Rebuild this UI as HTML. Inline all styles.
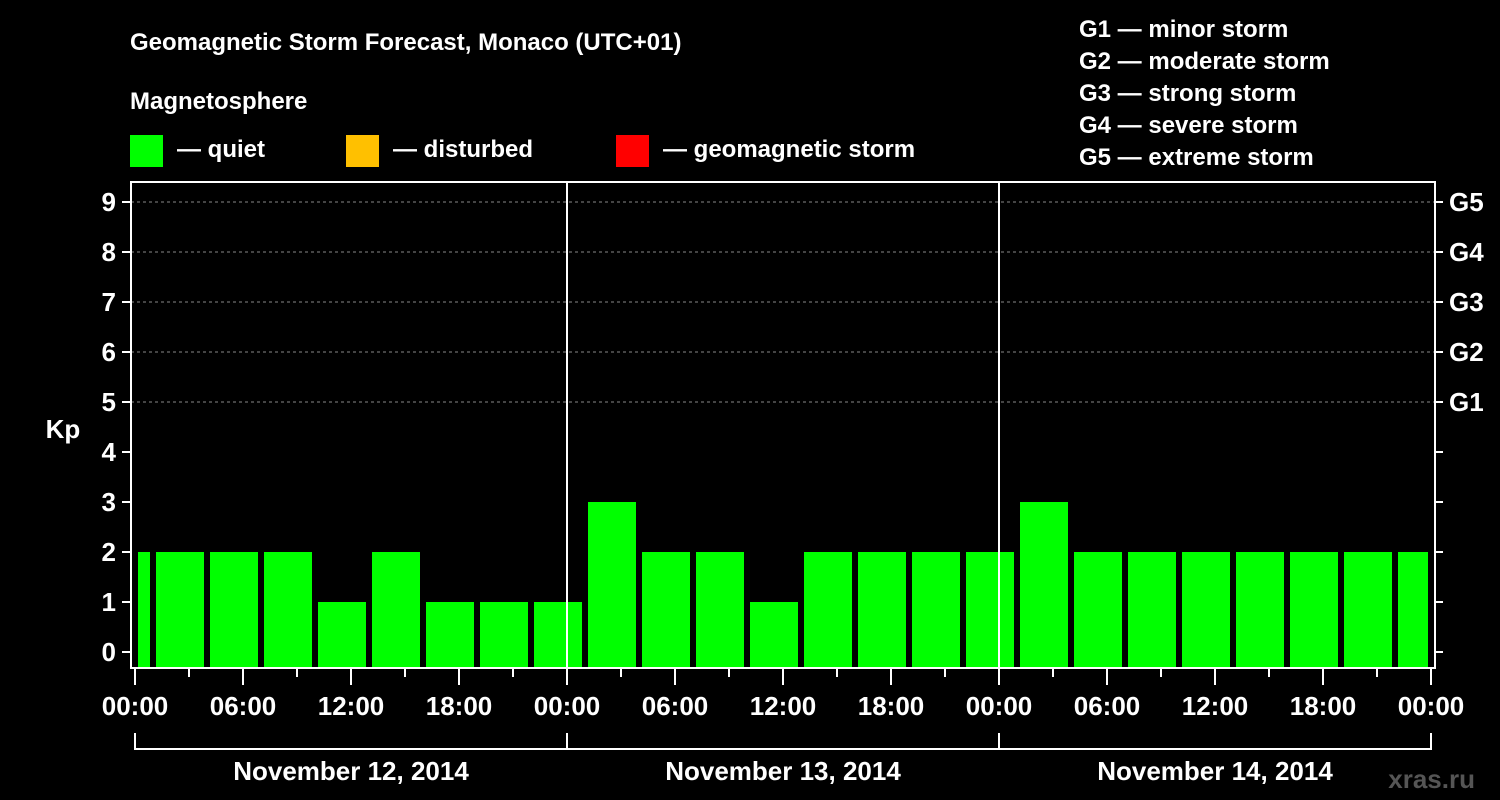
<!DOCTYPE html>
<html><head><meta charset="utf-8"><style>
html,body{margin:0;padding:0;background:#000;}
svg{display:block;font-family:"Liberation Sans",Arial,sans-serif;font-weight:bold;}
</style></head><body>
<svg id="chart" width="1500" height="800" viewBox="0 0 1500 800">
<text x="130" y="50" fill="#fff" font-size="24">Geomagnetic Storm Forecast, Monaco (UTC+01)</text>
<text x="130" y="109" fill="#fff" font-size="24">Magnetosphere</text>
<g><rect x="130" y="135" width="33" height="32" fill="#00ff00"/><text x="177" y="157" fill="#fff" font-size="24">— quiet</text></g>
<g><rect x="346" y="135" width="33" height="32" fill="#ffc000"/><text x="393" y="157" fill="#fff" font-size="24">— disturbed</text></g>
<g><rect x="616" y="135" width="33" height="32" fill="#ff0000"/><text x="663" y="157" fill="#fff" font-size="24">— geomagnetic storm</text></g>
<g fill="#fff" font-size="24">
<text x="1079" y="37">G1 — minor storm</text>
<text x="1079" y="69">G2 — moderate storm</text>
<text x="1079" y="101">G3 — strong storm</text>
<text x="1079" y="133">G4 — severe storm</text>
<text x="1079" y="165">G5 — extreme storm</text>
</g>
<text x="63" y="438" fill="#fff" font-size="26" text-anchor="middle">Kp</text>
<text x="1475" y="788" fill="#555" font-size="26" text-anchor="end">xras.ru</text>
<g id="plot"></g>
</svg>
<script>
const kpValues=[2,2,2,2,1,2,1,1,1,3,2,2,1,2,2,2,2,3,2,2,2,2,2,2,2];
const yTicks=[0,1,2,3,4,5,6,7,8,9];
const gLabels=["G1","G2","G3","G4","G5"];
const dayLabels=["November 12, 2014","November 13, 2014","November 14, 2014"];
const hourLabels=["00:00","06:00","12:00","18:00"];
const NS="http://www.w3.org/2000/svg";
const g=document.getElementById('plot');
const L=131,R=1435,T=182,B=668,X0=135,PXH=18;
const y=v=>652-v*50;
const x=h=>X0+h*PXH;
function mk(tag,at,parent){const e=document.createElementNS(NS,tag);for(const k in at)e.setAttribute(k,at[k]);(parent||g).appendChild(e);return e;}
// grid
for(let v=5;v<=9;v++){const l=mk('line',{x1:L,x2:R,y1:y(v),y2:y(v),stroke:'#888','stroke-dasharray':'3,3','stroke-width':1});

}
// bars: first bar interval starts at -2h (UTC+01 offset)
kpValues.forEach((v,i)=>{let s=x(-2+3*i),e=x(1+3*i);s=Math.max(s,X0);e=Math.min(e,x(72));
const r=mk('rect',{x:s+3,y:y(v),width:Math.max(0,e-s-6),height:B-y(v),fill:v>=5?'#ff0000':(v>=4?'#ffc000':'#00ff00')});

});
// day separators
[1,2].forEach(d=>{const l=mk('line',{x1:x(24*d),x2:x(24*d),y1:T,y2:B,stroke:'#fff','stroke-width':2});

});
// frame
const f=mk('rect',{x:L,y:T,width:R-L,height:B-T,fill:'none',stroke:'#fff','stroke-width':2});


// y ticks
yTicks.forEach(v=>{mk('line',{x1:122,x2:L,y1:y(v),y2:y(v),stroke:'#fff','stroke-width':2});
mk('line',{x1:R,x2:1443,y1:y(v),y2:y(v),stroke:'#fff','stroke-width':2});
const t=mk('text',{x:116,y:y(v)+9,fill:'#fff','font-size':26,'text-anchor':'end'});t.textContent=v;

});
gLabels.forEach((s,i)=>{const t=mk('text',{x:1449,y:y(5+i)+9,fill:'#fff','font-size':26});t.textContent=s;

});
// x ticks
for(let h=0;h<=72;h+=3){const major=h%6===0;mk('line',{x1:x(h),x2:x(h),y1:B,y2:major?685:677,stroke:'#fff','stroke-width':2});}
for(let h=0;h<=72;h+=6){const t=mk('text',{x:x(h),y:715,fill:'#fff','font-size':26,'text-anchor':'middle'});t.textContent=hourLabels[(h/6)%4];

}
// day brackets
mk('line',{x1:x(0),x2:x(72),y1:749,y2:749,stroke:'#fff','stroke-width':2});
for(let d=0;d<=3;d++)mk('line',{x1:x(24*d),x2:x(24*d),y1:733,y2:750,stroke:'#fff','stroke-width':2});
dayLabels.forEach((s,d)=>{const t=mk('text',{x:x(24*d+12),y:780,fill:'#fff','font-size':26,'text-anchor':'middle'});t.textContent=s;

});
</script>
</body></html>
